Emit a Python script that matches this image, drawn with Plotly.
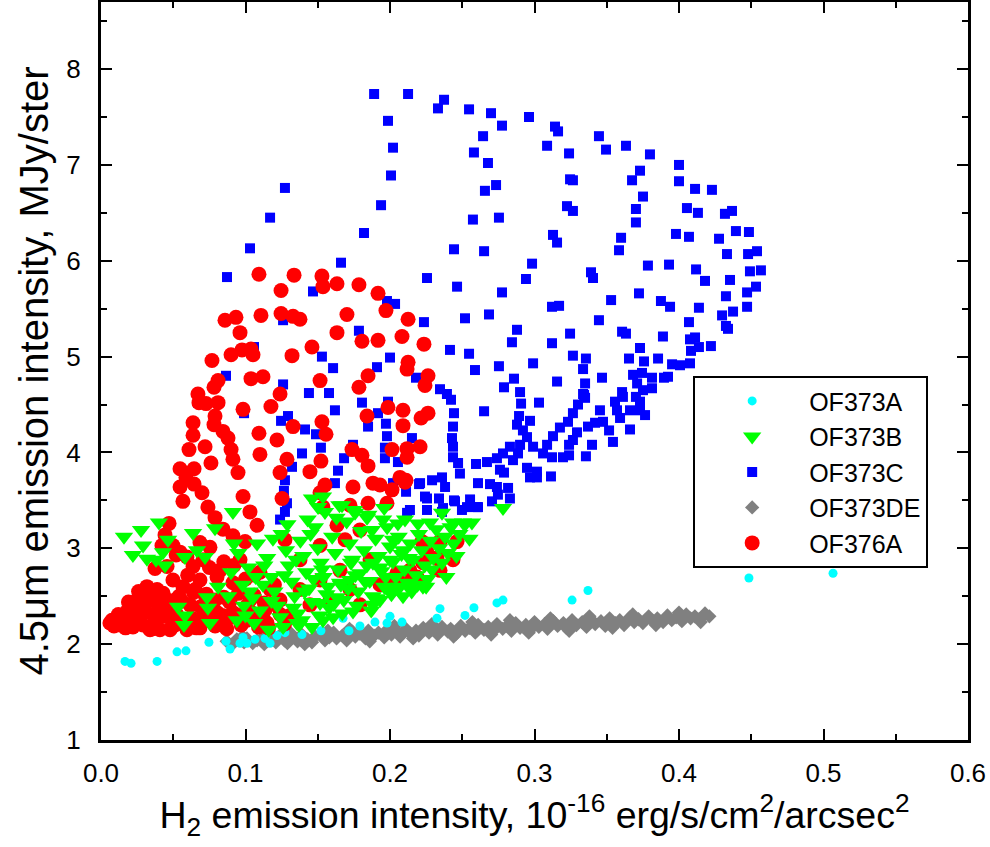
import plotly.graph_objects as go

# OF373C (blue squares)
c_x = [0.189, 0.2125, 0.2374, 0.2332, 0.2547, 0.2699, 0.2962, 0.2775, 0.3142, 0.3163, 0.3446, 0.2644,
       0.3087, 0.3495, 0.3633, 0.3239, 0.3799, 0.2581, 0.2678, 0.4, 0.373, 0.3246, 0.3266, 0.3675, 0.4,
       0.2734, 0.2657, 0.4111, 0.4228, 0.3751, 0.4055, 0.4131, 0.4318, 0.4367, 0.3225, 0.3266, 0.3702,
       0.3702, 0.2574, 0.2754, 0.4394, 0.4484, 0.3979, 0.4069, 0.4277, 0.3128, 0.3156, 0.3599, 0.3585,
       0.2443, 0.2651, 0.4332, 0.4478, 0.454, 0.3785, 0.3931, 0.4118, 0.418, 0.4353, 0.4491, 0.4567,
       0.2983, 0.2941, 0.3391, 0.3405, 0.2256, 0.2464, 0.2775, 0.3723, 0.353, 0.3875, 0.3938, 0.4138,
       0.4325, 0.4471, 0.4533, 0.4471, 0.4374, 0.4298, 0.3121, 0.317, 0.2519, 0.2685, 0.3446, 0.4069,
       0.4325, 0.4339, 0.2235, 0.2879, 0.3246, 0.3606, 0.3633, 0.3889, 0.4076, 0.4111, 0.4138, 0.4221,
       0.4083, 0.2844, 0.3121, 0.373, 0.2415, 0.2547, 0.3266, 0.3356, 0.3654, 0.3758, 0.3855, 0.3952,
       0.4007, 0.4076, 0.2588, 0.2754, 0.299, 0.3336, 0.3467, 0.2858, 0.2789, 0.29, 0.3156, 0.335,
       0.3343, 0.3682, 0.371, 0.3813, 0.3896, 0.3924, 0.3744, 0.3751, 0.3813, 0.3606, 0.218, 0.2346,
       0.2394, 0.2422, 0.3336, 0.335, 0.3612, 0.3702, 0.373, 0.3301, 0.3031, 0.2907, 0.2651, 0.2443,
       0.2893, 0.2879, 0.2969, 0.3557, 0.3571, 0.3592, 0.3661, 0.373, 0.3765, 0.3453, 0.3474, 0.3419,
       0.337, 0.3266, 0.3232, 0.3176, 0.3294, 0.3266, 0.3239, 0.3661, 0.3516, 0.3543, 0.3398, 0.3356,
       0.3128, 0.3087, 0.3059, 0.3121, 0.3197, 0.3239, 0.299, 0.292, 0.2948, 0.29, 0.2886, 0.2851,
       0.283, 0.2782, 0.274, 0.2671, 0.2595, 0.2436, 0.2429, 0.2436, 0.2436, 0.2471, 0.2484, 0.236,
       0.2381, 0.2291, 0.2208, 0.2111, 0.2948, 0.3017, 0.3017, 0.2969, 0.3114, 0.2761, 0.2789, 0.2609,
       0.2692, 0.274, 0.2817, 0.2747, 0.2706, 0.283, 0.2443, 0.2554, 0.2602, 0.2339, 0.2256, 0.2256,
       0.2118, 0.236, 0.2498, 0.1986, 0.2021, 0.2007, 0.1273, 0.1938, 0.117, 0.182, 0.1031, 0.1661,
       0.0872, 0.1467, 0.1979, 0.2035, 0.1785, 0.1529, 0.1606, 0.2, 0.191, 0.126, 0.1439, 0.1578,
       0.1806, 0.1986, 0.1917, 0.1619, 0.1294, 0.1246, 0.1972, 0.1848, 0.1412, 0.1488, 0.1979, 0.2152,
       0.1522, 0.1744, 0.1965, 0.1391, 0.1682, 0.1965, 0.2055, 0.1322, 0.164, 0.1273, 0.1619, 0.2201,
       0.1266, 0.2242, 0.0865, 0.0671, 0.099, 0.126, 0.1059, 0.1287, 0.2021, 0.245, 0.2533, 0.2609,
       0.2138, 0.2367, 0.1273, 0.1239]
c_y = [7.74, 7.74, 7.68, 7.59, 7.58, 7.54, 7.50, 7.41, 7.40, 7.35, 7.30, 7.30,
       7.20, 7.16, 7.20, 7.12, 7.11, 7.13, 7.02, 7.00, 6.94, 6.85, 6.84, 6.84, 6.83,
       6.79, 6.73, 6.75, 6.74, 6.67, 6.55, 6.50, 6.49, 6.52, 6.57, 6.52, 6.54,
       6.40, 6.43, 6.45, 6.31, 6.30, 6.28, 6.25, 6.23, 6.27, 6.19, 6.24, 6.11,
       6.12, 6.10, 6.07, 6.07, 6.10, 5.95, 5.96, 5.91, 5.79, 5.80, 5.89, 5.90,
       5.97, 5.81, 5.88, 5.82, 5.82, 5.73, 5.67, 5.66, 5.59, 5.58, 5.52, 5.51,
       5.63, 5.67, 5.73, 5.52, 5.47, 5.43, 5.52, 5.53, 5.40, 5.44, 5.38, 5.36,
       5.32, 5.29, 5.36, 5.28, 5.24, 5.26, 5.24, 5.21, 5.18, 5.20, 5.10, 5.11,
       5.06, 5.15, 5.14, 5.09, 5.07, 5.03, 5.01, 4.98, 4.98, 4.95, 4.98, 4.92,
       4.91, 4.93, 4.86, 4.90, 4.93, 4.87, 4.78, 4.77, 4.68, 4.63, 4.74, 4.72,
       4.60, 4.81, 4.72, 4.78, 4.78, 4.79, 4.83, 4.65, 4.67, 4.63, 4.78, 4.66,
       4.61, 4.55, 4.61, 4.57, 4.58, 4.58, 4.53, 4.50, 4.52, 4.51, 4.43, 4.41,
       4.38, 4.29, 4.33, 4.53, 4.44, 4.36, 4.44, 4.44, 4.39, 4.44, 4.32, 4.31,
       4.27, 4.41, 4.32, 4.26, 4.21, 4.13, 4.08, 4.24, 4.23, 4.11, 4.08, 3.96,
       4.17, 4.08, 3.99, 3.95, 3.95, 3.97, 4.06, 4.23, 4.16, 4.08, 3.99, 3.92,
       4.06, 3.99, 3.94, 3.90, 3.88, 4.27, 4.15, 4.06, 3.95, 3.89, 3.78, 3.74,
       3.64, 3.71, 3.68, 3.59, 3.84, 3.80, 3.74, 3.74, 3.75, 3.82, 3.79, 3.68,
       3.67, 3.64, 3.63, 3.56, 3.49, 3.52, 3.50, 3.51, 3.43, 3.52, 3.52, 3.40,
       3.37, 3.38, 3.40, 7.46, 7.18, 6.89, 6.76, 6.58, 6.45, 6.29, 6.13, 5.98,
       5.83, 5.68, 5.58, 5.55, 5.27, 5.00, 4.88, 4.99, 4.89, 4.71, 4.62, 4.62,
       4.52, 4.53, 4.41, 4.44, 4.38, 4.33, 4.30, 4.27, 4.24, 4.19, 4.17, 4.15,
       4.05, 4.08, 4.05, 3.99, 3.94, 3.94, 3.90, 3.85, 3.81, 3.71, 3.68, 3.67,
       3.60, 3.54, 4.80, 4.52, 4.41, 5.38, 5.10, 3.47, 3.68, 3.49, 3.43, 3.43,
       3.40, 3.42, 3.38, 3.30]

# OF376A (red circles)
r_x = [0.1093, 0.1336, 0.1529, 0.1536, 0.1633, 0.1785, 0.1246, 0.1917, 0.1972, 0.2125, 0.0858, 0.0934,
       0.1107, 0.1246, 0.1329, 0.1377, 0.1702, 0.0962, 0.1633, 0.1806, 0.1917, 0.2083, 0.2235, 0.0976,
       0.1038, 0.1052, 0.09, 0.0768, 0.1322, 0.146, 0.2125, 0.2118, 0.2263, 0.2242, 0.1848, 0.1785,
       0.081, 0.0782, 0.1038, 0.1121, 0.1516, 0.1239, 0.0671, 0.0678, 0.0727, 0.081, 0.0983, 0.1176,
       0.0789, 0.0637, 0.0782, 0.0844, 0.0879, 0.0637, 0.072, 0.0609, 0.09, 0.0913, 0.0761, 0.0547,
       0.0644, 0.0588, 0.0547, 0.0644, 0.0699, 0.0567, 0.0948, 0.0983, 0.1093, 0.11, 0.1218, 0.1329,
       0.1287, 0.1239, 0.1446, 0.1522, 0.1529, 0.1557, 0.155, 0.1744, 0.1737, 0.1806, 0.1848, 0.1882,
       0.1931, 0.2014, 0.1841, 0.1986, 0.209, 0.209, 0.2215, 0.2263, 0.2014, 0.2118, 0.2118, 0.2208,
       0.2069, 0.2111, 0.1253, 0.1516, 0.1848, 0.1979, 0.1536, 0.074, 0.1031, 0.0789, 0.0471, 0.0844,
       0.0913, 0.108, 0.0443, 0.0498, 0.0422, 0.0685, 0.0754, 0.0997, 0.0547, 0.0595, 0.0706, 0.0374,
       0.0457, 0.0637, 0.0824, 0.0318, 0.0291, 0.0249, 0.0215, 0.018, 0.0131, 0.0076, 0.0062, 0.0131,
       0.0221, 0.0339, 0.0478, 0.0595, 0.0388, 0.0457, 0.0567, 0.0685, 0.0803, 0.0498, 0.0388, 0.0913,
       0.0913, 0.0803, 0.0734, 0.0637, 0.101, 0.11, 0.1149, 0.2221, 0.2346, 0.2464, 0.2256, 0.2325,
       0.2436, 0.2228, 0.2346, 0.2138, 0.2048, 0.2187, 0.209, 0.2, 0.1633, 0.2104, 0.1723,
       0.0962, 0.1066, 0.117, 0.1031, 0.1135, 0.1239, 0.1308, 0.1377, 0.1446, 0.1516, 0.1585, 0.1654,
       0.1723, 0.1792, 0.1862, 0.1931, 0.1377, 0.1516, 0.1273, 0.1689, 0.1792, 0.0893, 0.0962, 0.0858,
       0.0685, 0.0512, 0.0374, 0.027, 0.0304, 0.0512, 0.0616, 0.072, 0.0789, 0.0651, 0.0166, 0.0235,
       0.0408,
       # dense lower-left blob
       0.009, 0.017, 0.029, 0.036, 0.049, 0.057, 0.066, 0.079, 0.087, 0.097, 0.109, 0.116, 0.127,
       0.012, 0.023, 0.031, 0.044, 0.052, 0.063, 0.071, 0.084, 0.093, 0.104, 0.112, 0.124,
       0.019, 0.027, 0.039, 0.047, 0.056, 0.069, 0.076, 0.089, 0.101, 0.113, 0.121,
       0.026, 0.035, 0.043, 0.054, 0.064, 0.073, 0.085, 0.095, 0.106,
       0.052, 0.085, 0.092, 0.110, 0.075, 0.060, 0.100, 0.120]
r_y = [5.86, 5.85, 5.84, 5.73, 5.76, 5.75, 5.69, 5.66, 5.48, 5.39, 5.38, 5.41,
       5.43, 5.45, 5.42, 5.39, 5.44, 5.25, 5.25, 5.16, 5.17, 5.21, 5.13, 5.07,
       5.08, 5.02, 5.02, 4.96, 5.01, 5.10, 4.94, 4.87, 4.80, 4.70, 4.80, 4.68,
       4.75, 4.68, 4.77, 4.79, 4.75, 4.61, 4.61, 4.52, 4.51, 4.52, 4.45, 4.48,
       4.38, 4.31, 4.29, 4.22, 4.15, 4.18, 4.06, 4.03, 4.03, 3.93, 3.89, 3.83,
       3.83, 3.74, 3.64, 3.67, 3.58, 3.49, 3.79, 3.54, 4.20, 3.98, 4.13, 4.27,
       3.93, 3.79, 3.80, 3.91, 4.32, 4.19, 3.66, 3.64, 4.03, 3.97, 3.86, 3.68,
       3.66, 3.61, 4.38, 4.47, 4.44, 4.28, 4.36, 4.41, 4.03, 4.04, 3.95, 4.06,
       3.74, 3.71, 3.52, 3.58, 3.47, 3.47, 3.43, 3.43, 3.38, 3.32, 3.26, 3.20,
       3.13, 3.24, 3.14, 3.03, 3.03, 3.06, 3.01, 3.07, 2.96, 2.91, 2.88, 2.79,
       2.81, 2.81, 2.77, 2.60, 2.51, 2.46, 2.39, 2.34, 2.28, 2.25, 2.22, 2.20,
       2.18, 2.15, 2.15, 2.15, 2.33, 2.46, 2.60, 2.67, 2.70, 2.67, 2.57, 2.64,
       2.33, 2.33, 2.25, 2.25, 2.25, 2.25, 2.22, 3.07, 3.07, 3.07, 2.96, 2.90,
       2.88, 2.85, 2.77, 2.77, 2.74, 2.70, 2.67, 2.67, 3.24, 3.69, 3.45,
       2.88, 2.72, 2.57, 2.46, 2.36, 2.46, 2.30, 2.57, 2.41, 2.67, 2.46, 2.77,
       2.57, 2.41, 2.88, 2.62, 2.88, 3.03, 3.09, 3.09, 3.19, 2.46, 2.30, 2.20,
       2.17, 2.20, 2.25, 2.30, 2.41, 2.46, 2.41, 2.51, 2.46, 2.57, 2.25, 2.23,
       2.15,
       2.19, 2.17, 2.20, 2.16, 2.18, 2.21, 2.17, 2.19, 2.16, 2.20, 2.18, 2.17, 2.21,
       2.31, 2.28, 2.33, 2.29, 2.32, 2.27, 2.31, 2.30, 2.28, 2.33, 2.29, 2.31,
       2.44, 2.40, 2.43, 2.41, 2.45, 2.39, 2.42, 2.44, 2.40, 2.43, 2.41,
       2.55, 2.51, 2.53, 2.50, 2.54, 2.52, 2.49, 2.53, 2.51,
       2.93, 2.86, 2.82, 2.75, 2.80, 2.72, 2.68, 2.62]

# OF373B (green triangles)
b_x = [0.0159, 0.0277, 0.0401, 0.0291, 0.0221, 0.0318, 0.0381, 0.0443, 0.0464, 0.0429, 0.0581, 0.0637,
       0.0664, 0.072, 0.0789, 0.0913, 0.0533, 0.0581, 0.0574, 0.0734, 0.074, 0.0754, 0.081,
       0.146, 0.1502, 0.1536, 0.1668, 0.1758, 0.1841, 0.1952, 0.2055, 0.2104, 0.2194, 0.2277, 0.236,
       0.2436, 0.2505, 0.2567, 0.2782, 0.2228, 0.2159, 0.2069, 0.2, 0.1931, 0.1882, 0.1744, 0.1606,
       0.1536, 0.146, 0.1356, 0.1875, 0.2021, 0.209, 0.2, 0.1882, 0.1792, 0.1723, 0.1654, 0.1633,
       0.1516,
       0.095, 0.102, 0.098, 0.105, 0.110, 0.108, 0.115, 0.118, 0.120, 0.122, 0.125, 0.128, 0.130,
       0.132, 0.134, 0.136, 0.138, 0.140, 0.142, 0.144, 0.146, 0.148, 0.150, 0.152, 0.154, 0.156,
       0.158, 0.160, 0.162, 0.164, 0.166, 0.168, 0.170, 0.172, 0.174, 0.176, 0.178, 0.180, 0.182,
       0.184, 0.186, 0.188, 0.190, 0.192, 0.194, 0.196, 0.198, 0.200, 0.202, 0.204, 0.206, 0.208,
       0.210, 0.212, 0.214, 0.216, 0.218, 0.220, 0.222, 0.224, 0.226, 0.228, 0.230, 0.232, 0.234,
       0.236, 0.238, 0.240, 0.242, 0.244, 0.246, 0.248, 0.252, 0.255, 0.112, 0.118, 0.124, 0.127,
       0.133, 0.139, 0.141, 0.147, 0.151, 0.157, 0.161, 0.167, 0.171, 0.177, 0.183, 0.187, 0.191,
       0.197, 0.201, 0.205, 0.209, 0.215, 0.219, 0.225, 0.100, 0.106, 0.116, 0.126, 0.137, 0.119,
       0.129, 0.143, 0.155, 0.163, 0.175, 0.185, 0.196, 0.165, 0.145, 0.135, 0.153, 0.173, 0.193,
       0.213, 0.229, 0.239, 0.107, 0.103, 0.113, 0.099, 0.094, 0.090, 0.092, 0.088]
b_y = [3.12, 3.19, 3.27, 3.03, 2.93, 2.89, 2.88, 2.82, 3.09, 2.96, 2.91, 3.16,
       2.98, 2.91, 3.21, 3.38, 2.39, 2.30, 2.20, 2.49, 2.38, 2.22, 2.60,
       3.52, 3.43, 3.54, 3.45, 3.37, 3.32, 3.30, 3.26, 3.30, 3.26, 3.27, 3.37,
       3.27, 3.27, 3.27, 3.42, 2.60, 2.60, 2.60, 2.57, 2.46, 2.41, 2.34, 2.28,
       2.25, 2.18, 2.22, 3.19, 3.09, 2.98, 2.88, 2.85, 2.74, 2.67, 2.64, 2.49,
       2.43,
       2.95, 2.80, 2.62, 2.48, 2.35, 3.05, 2.90, 2.70, 2.55, 2.40, 3.15, 2.98, 2.82,
       2.65, 2.50, 2.32, 3.08, 2.92, 2.75, 2.58, 2.44, 3.22, 3.00, 2.85, 2.70, 2.52,
       2.38, 3.12, 2.95, 2.78, 2.62, 2.46, 3.28, 3.05, 2.88, 2.72, 2.55, 3.18, 2.98,
       2.82, 2.66, 2.50, 3.10, 2.92, 2.76, 2.60, 3.22, 3.02, 2.86, 2.70, 3.12, 2.94,
       2.78, 2.64, 3.05, 2.88, 2.72, 3.15, 2.98, 2.82, 2.68, 3.08, 2.90, 3.20, 3.00,
       2.85, 3.12, 2.95, 3.22, 3.05, 2.92, 3.15, 3.25, 3.10, 2.62, 2.45, 2.28, 2.72,
       2.38, 2.25, 2.55, 2.68, 2.30, 2.60, 2.42, 2.32, 2.58, 2.40, 2.65, 2.35, 2.48,
       2.70, 2.52, 2.58, 2.50, 2.55, 2.62, 2.60, 2.30, 2.22, 2.15, 2.18, 2.20, 3.10,
       3.25, 3.30, 3.38, 3.32, 3.40, 3.35, 3.42, 3.45, 3.15, 2.88, 2.78, 2.85, 2.80,
       2.90, 2.78, 2.70, 2.70, 2.55, 2.82, 2.40, 2.25, 2.75, 3.05, 2.50]

# OF373DE (gray diamonds)
d_x = [0.087, 0.091, 0.094, 0.099, 0.101, 0.105, 0.108, 0.112, 0.113, 0.117, 0.121, 0.123, 0.127,
       0.129, 0.134, 0.136, 0.139, 0.143, 0.146, 0.148, 0.152, 0.155, 0.158, 0.161, 0.163, 0.167,
       0.170, 0.174, 0.176, 0.179, 0.183, 0.185, 0.189, 0.192, 0.196, 0.198, 0.201, 0.205, 0.207,
       0.211, 0.214, 0.218, 0.220, 0.223, 0.227, 0.230, 0.233, 0.236, 0.240, 0.242, 0.246, 0.249,
       0.252, 0.255, 0.259, 0.261, 0.265, 0.268, 0.271, 0.274, 0.278, 0.281, 0.284, 0.287, 0.290,
       0.294, 0.297, 0.300, 0.303, 0.307, 0.309, 0.313, 0.316, 0.320, 0.322, 0.326, 0.329, 0.333,
       0.336, 0.339, 0.342, 0.346, 0.349, 0.352, 0.356, 0.359, 0.362, 0.366, 0.369, 0.372, 0.375,
       0.379, 0.382, 0.385, 0.389, 0.392, 0.395, 0.398, 0.402, 0.405, 0.408, 0.411, 0.414, 0.418,
       0.421, 0.098, 0.115, 0.131, 0.141, 0.157, 0.172, 0.186, 0.203, 0.216, 0.229, 0.244, 0.257,
       0.270, 0.283, 0.296, 0.311, 0.324, 0.338, 0.354, 0.368, 0.384, 0.400, 0.415]
d_y = [2.03, 2.00, 2.05, 2.02, 2.06, 2.01, 2.04, 2.07, 2.00, 2.05, 2.02, 2.08, 2.04,
       2.01, 2.07, 2.03, 2.10, 2.05, 2.02, 2.08, 2.11, 2.04, 2.07, 2.12, 2.06, 2.09,
       2.04, 2.13, 2.08, 2.11, 2.06, 2.14, 2.09, 2.12, 2.07, 2.15, 2.10, 2.13, 2.08,
       2.16, 2.11, 2.14, 2.09, 2.17, 2.12, 2.15, 2.10, 2.18, 2.13, 2.16, 2.11, 2.19,
       2.14, 2.17, 2.12, 2.20, 2.15, 2.18, 2.13, 2.21, 2.16, 2.19, 2.14, 2.22, 2.17,
       2.20, 2.15, 2.23, 2.18, 2.21, 2.16, 2.24, 2.19, 2.22, 2.17, 2.25, 2.20, 2.23,
       2.18, 2.26, 2.21, 2.24, 2.19, 2.27, 2.22, 2.25, 2.20, 2.28, 2.23, 2.26, 2.22,
       2.29, 2.24, 2.27, 2.23, 2.30, 2.25, 2.28, 2.24, 2.31, 2.27, 2.29, 2.26, 2.32,
       2.29, 2.08, 2.10, 2.12, 2.00, 2.14, 2.16, 2.03, 2.19, 2.06, 2.21, 2.08, 2.23,
       2.10, 2.25, 2.12, 2.27, 2.14, 2.29, 2.17, 2.31, 2.20, 2.33, 2.23]

# OF373A (cyan circles)
a_x = [0.0166, 0.0208, 0.0388, 0.0526, 0.0588, 0.0747, 0.0865, 0.0893, 0.0962, 0.0983, 0.101, 0.1066,
       0.1135, 0.117, 0.1218, 0.1273, 0.1391, 0.1522, 0.1675, 0.1716, 0.1792, 0.1896, 0.1979, 0.2,
       0.2083, 0.2325, 0.2346, 0.2519, 0.2581, 0.274, 0.2782, 0.326, 0.337, 0.4484, 0.5066]
a_y = [1.82, 1.80, 1.82, 1.92, 1.93, 2.02, 2.03, 1.95, 2.01, 2.07, 2.01, 2.05,
       2.06, 2.01, 2.09, 2.12, 2.10, 2.14, 2.27, 2.14, 2.19, 2.23, 2.22, 2.29,
       2.23, 2.27, 2.37, 2.30, 2.38, 2.43, 2.46, 2.46, 2.56, 2.69, 2.74]

FONT = "Liberation Sans, Arial, sans-serif"

fig = go.Figure()
# drawing order: blue at the back, green triangles on top
fig.add_trace(go.Scatter(x=c_x, y=c_y, mode="markers", name="OF373C", legendrank=3,
                         marker=dict(symbol="square", size=10, color="#0000FF", line=dict(width=0))))
fig.add_trace(go.Scatter(x=d_x, y=d_y, mode="markers", name="OF373DE", legendrank=4,
                         marker=dict(symbol="diamond", size=11, color="#808080", line=dict(width=0))))
fig.add_trace(go.Scatter(x=a_x, y=a_y, mode="markers", name="OF373A", legendrank=1,
                         marker=dict(symbol="circle", size=9, color="#00FFFF", line=dict(width=0))))
fig.add_trace(go.Scatter(x=r_x, y=r_y, mode="markers", name="OF376A", legendrank=5,
                         marker=dict(symbol="circle", size=15, color="#FF0000", line=dict(width=0))))
fig.add_trace(go.Scatter(x=b_x, y=b_y, mode="markers", name="OF373B", legendrank=2,
                         marker=dict(symbol="triangle-down", size=16, color="#00FF00", line=dict(width=0))))

axis_common = dict(
    showline=True, linecolor="black", linewidth=3, mirror="ticks",
    ticks="inside", ticklen=11, tickwidth=2, tickcolor="black",
    showgrid=False, zeroline=False,
    tickfont=dict(family=FONT, size=26, color="black"),
)

fig.update_xaxes(
    range=[0, 0.6], dtick=0.1, tick0=0, tickformat=".1f",
    minor=dict(ticks="inside", ticklen=6, tickwidth=1.5, tickcolor="black", dtick=0.05),
    ticklabelstandoff=8,
    title=dict(text="H<sub>2</sub> emission intensity, 10<sup>-16</sup> erg/s/cm<sup>2</sup>/arcsec<sup>2</sup>",
               font=dict(family=FONT, size=37.5, color="black"), standoff=8),
    **axis_common,
)
fig.update_yaxes(
    range=[1, 8.7], dtick=1, tick0=1,
    minor=dict(ticks="inside", ticklen=6, tickwidth=1.5, tickcolor="black", dtick=0.5),
    ticklabelstandoff=12,
    title=dict(text="4.5μm emission intensity, MJy/ster",
               font=dict(family=FONT, size=40, color="black"), standoff=6),
    **axis_common,
)

fig.update_layout(
    width=990, height=847,
    margin=dict(l=101, r=22, t=2, b=107, autoexpand=False),
    paper_bgcolor="white", plot_bgcolor="white",
    showlegend=True,
    legend=dict(
        x=0.683, y=0.493, xanchor="left", yanchor="top",
        bgcolor="white", bordercolor="black", borderwidth=2,
        font=dict(family=FONT, size=25, color="black"),
        itemwidth=104,
    ),
)

fig.write_html("out.html")
